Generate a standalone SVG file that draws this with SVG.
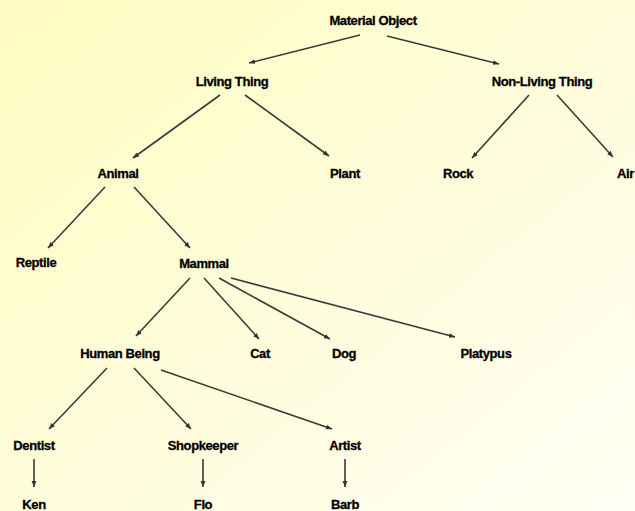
<svg xmlns="http://www.w3.org/2000/svg" width="635" height="511" viewBox="0 0 635 511">
<defs>
<linearGradient id="bg" x1="0" y1="0" x2="1" y2="1">
<stop offset="0" stop-color="#FFFBC0"/>
<stop offset="1" stop-color="#FFFFF4"/>
</linearGradient>
<marker id="ah" viewBox="0 0 10 10" refX="10" refY="5" markerWidth="6" markerHeight="6" markerUnits="userSpaceOnUse" orient="auto">
<path d="M0,1 L10,5 L0,9 z" fill="#333"/>
</marker>
<style>
.t{font-family:"Liberation Sans",Arial,sans-serif;font-weight:bold;font-size:13px;fill:#000;stroke:#000;stroke-width:0.3px;text-anchor:middle;dominant-baseline:central;letter-spacing:-0.4px}
.c line{stroke:#3a3a3a;stroke-width:1.6;marker-end:url(#ah)}
</style>
</defs>
<rect x="0" y="0" width="635" height="511" fill="url(#bg)"/>
<g id="connectors" class="c">
<line x1="360" y1="35" x2="249" y2="63"/>
<line x1="387" y1="36" x2="499" y2="64"/>
<line x1="220" y1="95" x2="133" y2="158"/>
<line x1="245" y1="95" x2="329" y2="156"/>
<line x1="529" y1="95" x2="472" y2="158"/>
<line x1="557" y1="95" x2="613" y2="157"/>
<line x1="105" y1="187" x2="48" y2="248"/>
<line x1="134" y1="187" x2="190" y2="248"/>
<line x1="190" y1="278" x2="136" y2="336"/>
<line x1="204" y1="278" x2="259" y2="339"/>
<line x1="219" y1="278" x2="330" y2="339"/>
<line x1="231" y1="278" x2="455" y2="337"/>
<line x1="107" y1="368" x2="49" y2="429"/>
<line x1="134" y1="368" x2="191" y2="429"/>
<line x1="161" y1="370" x2="332" y2="429"/>
<line x1="34" y1="459" x2="34" y2="487"/>
<line x1="203" y1="459" x2="203" y2="487"/>
<line x1="345" y1="459" x2="345" y2="487"/>
</g>
<g id="material-object"><text class="t" x="373" y="20">Material Object</text></g>
<g id="living-thing"><text class="t" x="232" y="81">Living Thing</text></g>
<g id="non-living-thing"><text class="t" x="542" y="81">Non-Living Thing</text></g>
<g id="animal"><text class="t" x="118" y="173">Animal</text></g>
<g id="plant"><text class="t" x="345" y="173">Plant</text></g>
<g id="rock"><text class="t" x="458" y="173">Rock</text></g>
<g id="air"><text class="t" x="617" y="173" style="text-anchor:start">Air</text></g>
<g id="reptile"><text class="t" x="36" y="262">Reptile</text></g>
<g id="mammal"><text class="t" x="204" y="263">Mammal</text></g>
<g id="human-being"><text class="t" x="120" y="353">Human Being</text></g>
<g id="cat"><text class="t" x="260" y="353">Cat</text></g>
<g id="dog"><text class="t" x="344" y="353">Dog</text></g>
<g id="platypus"><text class="t" x="486" y="353">Platypus</text></g>
<g id="dentist"><text class="t" x="34" y="445">Dentist</text></g>
<g id="shopkeeper"><text class="t" x="203" y="445">Shopkeeper</text></g>
<g id="artist"><text class="t" x="345" y="445">Artist</text></g>
<g id="ken"><text class="t" x="34" y="504">Ken</text></g>
<g id="flo"><text class="t" x="203" y="504">Flo</text></g>
<g id="barb"><text class="t" x="345" y="504">Barb</text></g>
</svg>
